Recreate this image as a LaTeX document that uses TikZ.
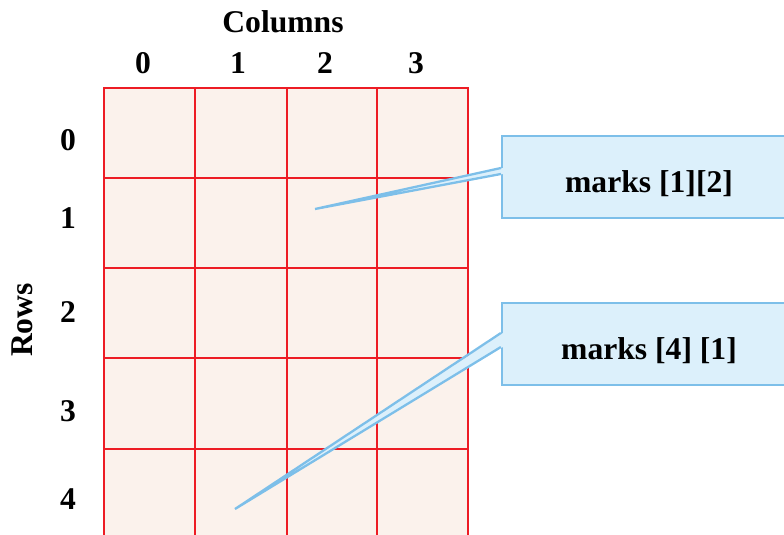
\documentclass[tikz,border=0pt]{standalone}
\usepackage{fontspec}
\setmainfont{Liberation Serif}
\usepackage{tikz}
\usetikzlibrary{calc, positioning}
\usepackage{xcolor}
\definecolor{gridred}{HTML}{ED1C24}
\definecolor{cellfill}{HTML}{FBF2EC}
\definecolor{tipblue}{HTML}{7DBFE9}
\definecolor{tipfill}{HTML}{DCF0FB}
\newcommand{\arrfont}{\fontsize{18}{20}\selectfont\bfseries}
\tikzset{
  arrtext/.style={font=\arrfont, inner sep=0pt},
  gridline/.style={draw=gridred, line width=1.4pt, line cap=rect},
  tipbox/.style={rectangle, draw=tipblue, fill=tipfill, line width=1.3pt,
                 minimum width=5.88cm, minimum height=1.64cm,
                 text height=23pt, text depth=5pt, align=center, font=\arrfont},
  tipfillin/.style={fill=tipfill},
  tipedge/.style={draw=tipblue, line width=1.3pt, line join=miter},
}

\begin{document}
\begin{tikzpicture}[x=0.02cm, y=-0.02cm]
  \useasboundingbox (0,0) rectangle (784,534);
  \clip (0,0) rectangle (784,534);

  % --- 2D array grid ---
  \fill[cellfill] (104,88) rectangle (468,545);
  \foreach \x in {104,195,287,377,468} {
    \draw[gridline] (\x,88) -- (\x,545);
  }
  \foreach \y in {88,178,268,358,449} {
    \draw[gridline] (104,\y) -- (468,\y);
  }

  % --- Column and row indices ---
  \node[arrtext] (cols) at (283,22) {Columns};
  \foreach \c/\x in {0/143,1/238,2/325,3/416} {
    \node[arrtext] (c\c) at (\x,63) {\c};
  }
  \foreach \r/\y in {0/140,1/218,2/312,3/411,4/499} {
    \node[arrtext] (r\r) at (68,\y) {\r};
  }
  \node[arrtext, rotate=90] (rows) at (22,320) {Rows};

  % --- Callouts to single elements ---
  \coordinate (cell12) at (315,209);
  \coordinate (cell41) at (235,509);
  \node[tipbox] (tip12) at (649,177) {marks [1][2]};
  \node[tipbox] (tip41) at (649,344) {marks [4] [1]};

  % pointers (fill first, then the two edges)
  \fill[tipfillin] ($(tip12.west)+(2,-9)$) -- (cell12) -- ($(tip12.west)+(2,-3)$) -- cycle;
  \draw[tipedge] ($(tip12.west)+(0,-9)$) -- (cell12) -- ($(tip12.west)+(0,-3)$);
  \fill[tipfillin] ($(tip41.west)+(2,-11)$) -- (cell41) -- ($(tip41.west)+(2,3)$) -- cycle;
  \draw[tipedge] ($(tip41.west)+(0,-11)$) -- (cell41) -- ($(tip41.west)+(0,3)$);

\end{tikzpicture}
\end{document}
